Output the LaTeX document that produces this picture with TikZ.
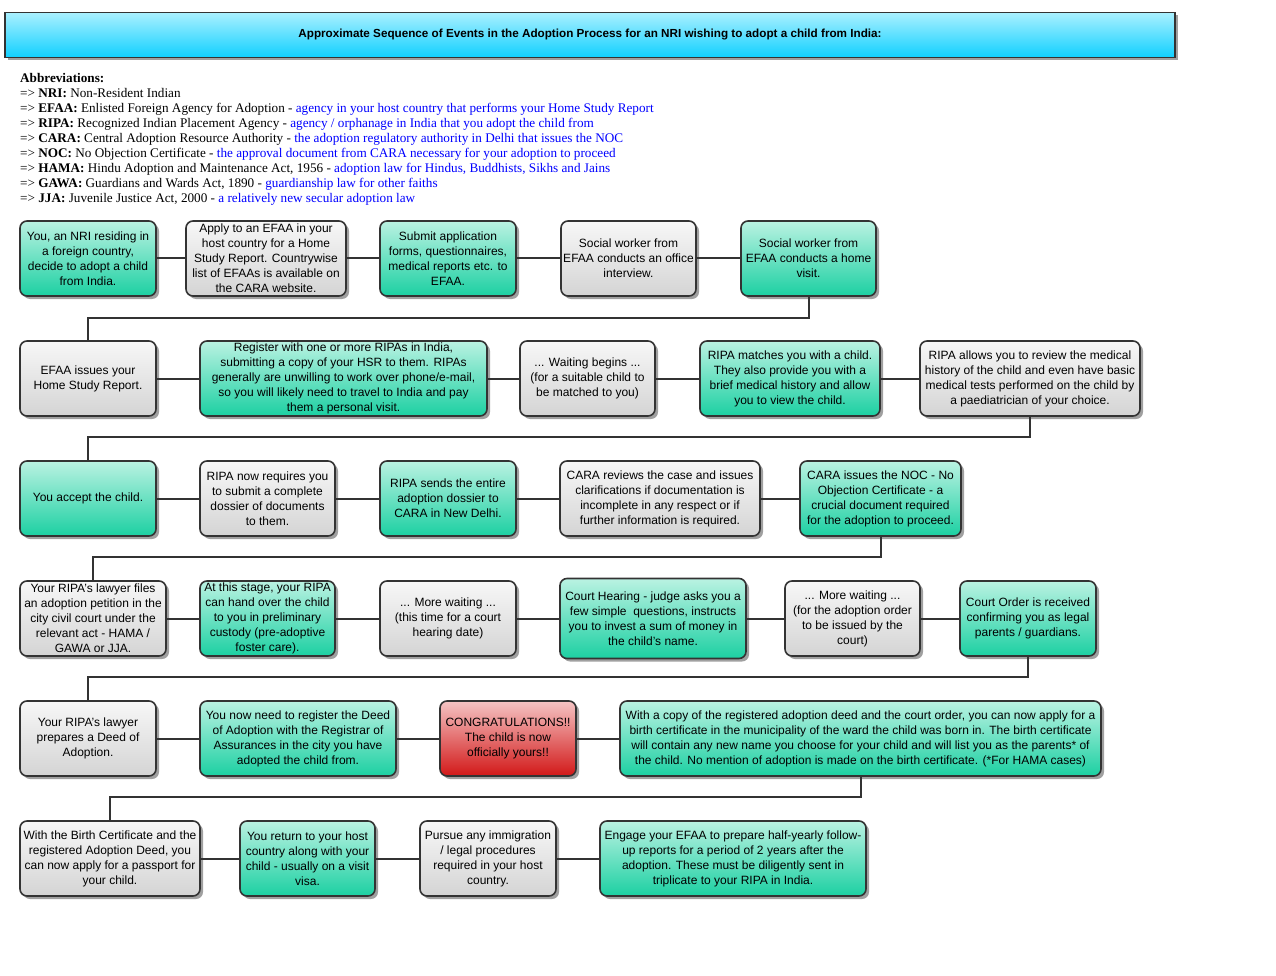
\documentclass[tikz,border=0pt]{standalone}
\usepackage{fontspec}
\setmainfont{Liberation Serif}
\setsansfont{Liberation Sans}
\usepackage{xcolor}
\definecolor{edge}{RGB}{51,51,51}
\definecolor{shadowgrey}{RGB}{160,160,160}
\definecolor{tealtop}{RGB}{186,242,226}
\definecolor{tealbot}{RGB}{28,208,162}
\definecolor{greytop}{RGB}{247,247,247}
\definecolor{greybot}{RGB}{212,212,212}
\definecolor{redtop}{RGB}{245,196,196}
\definecolor{redbot}{RGB}{210,24,24}
\definecolor{cyantop}{RGB}{170,240,255}
\definecolor{cyanbot}{RGB}{16,208,255}
\definecolor{linkblue}{RGB}{0,0,255}
\usepackage{tikz}
\usetikzlibrary{positioning,shadows}
\tikzset{
  box/.style={draw=edge,line width=1.6pt,rounded corners=7pt,inner sep=1pt,outer sep=0pt,%
    align=center,minimum height=75pt,font=\sffamily\fontsize{12}{15}\selectfont,%
    drop shadow={shadow xshift=3pt,shadow yshift=-3pt,fill=shadowgrey,opacity=1}},
  greybox/.style={box,top color=greytop,bottom color=greybot},
  greenbox/.style={box,top color=tealtop,bottom color=tealbot},
  redbox/.style={box,top color=redtop,bottom color=redbot},
  titlebar/.style={draw=edge,line width=1.6pt,outer sep=0pt,minimum width=1170pt,%
    minimum height=45pt,top color=cyantop,bottom color=cyanbot,%
    font=\sffamily\bfseries\fontsize{11.7}{14}\selectfont,%
    drop shadow={shadow xshift=3pt,shadow yshift=-3pt,fill=shadowgrey,opacity=1}},
  abbr/.style={inner sep=0pt,align=left,font=\rmfamily\fontsize{13.2}{15}\selectfont},
  flow/.style={draw=edge,line width=2pt},
}

\begin{document}
\begin{tikzpicture}[x=1pt,y=-1pt]
\useasboundingbox (0,0) rectangle (1276,976);
\node[titlebar] (title) at (590,35) {Approximate Sequence of Events in the Adoption Process for an NRI wishing to adopt a child from India:};
\node[abbr,anchor=north west] (abbr) at (20,73) {\textbf{Abbreviations:}\\
=> \textbf{NRI:} Non-Resident Indian\\
=> \textbf{EFAA:} Enlisted Foreign Agency for Adoption - \textcolor{linkblue}{agency in your host country that performs your Home Study Report}\\
=> \textbf{RIPA:} Recognized Indian Placement Agency - \textcolor{linkblue}{agency / orphanage in India that you adopt the child from}\\
=> \textbf{CARA:} Central Adoption Resource Authority - \textcolor{linkblue}{the adoption regulatory authority in Delhi that issues the NOC}\\
=> \textbf{NOC:} No Objection Certificate - \textcolor{linkblue}{the approval document from CARA necessary for your adoption to proceed}\\
=> \textbf{HAMA:} Hindu Adoption and Maintenance Act, 1956 - \textcolor{linkblue}{adoption law for Hindus, Buddhists, Sikhs and Jains}\\
=> \textbf{GAWA:} Guardians and Wards Act, 1890 - \textcolor{linkblue}{guardianship law for other faiths}\\
=> \textbf{JJA:} Juvenile Justice Act, 2000 - \textcolor{linkblue}{a relatively new secular adoption law}};

% row 1
\node[greenbox,minimum width=136pt,anchor=west] (nri) at (20,258.5) {You, an NRI residing in\\a foreign country,\\decide to adopt a child\\from India.};
\node[greybox,minimum width=160pt,right=30pt of nri] (efaa) {Apply to an EFAA in your\\host country for a Home\\Study Report. Countrywise\\list of EFAAs is available on\\the CARA website.};
\node[greenbox,minimum width=136pt,right=34pt of efaa] (forms) {Submit application\\forms, questionnaires,\\medical reports etc. to\\EFAA.};
\node[greybox,minimum width=135pt,right=45pt of forms] (office) {Social worker from\\EFAA conducts an office\\interview.};
\node[greenbox,minimum width=135pt,right=45pt of office] (home) {Social worker from\\EFAA conducts a home\\visit.};
% row 2
\node[greybox,minimum width=136pt,anchor=west] (hsr) at (20,378.5) {EFAA issues your\\Home Study Report.};
\node[greenbox,minimum width=287pt,right=44pt of hsr] (reg) {Register with one or more RIPAs in India,\\submitting a copy of your HSR to them. RIPAs\\generally are unwilling to work over phone/e-mail,\\so you will likely need to travel to India and pay\\them a personal visit.};
\node[greybox,minimum width=135pt,right=33pt of reg] (waitA) {... Waiting begins ...\\(for a suitable child to\\be matched to you)};
\node[greenbox,minimum width=180pt,right=45pt of waitA] (match) {RIPA matches you with a child.\\They also provide you with a\\brief medical history and allow\\you to view the child.};
\node[greybox,minimum width=220pt,right=40pt of match] (review) {RIPA allows you to review the medical\\history of the child and even have basic\\medical tests performed on the child by\\a paediatrician of your choice.};
% row 3
\node[greenbox,minimum width=136pt,anchor=west] (accept) at (20,498.5) {You accept the child.};
\node[greybox,minimum width=135pt,right=44pt of accept] (dossier) {RIPA now requires you\\to submit a complete\\dossier of documents\\to them.};
\node[greenbox,minimum width=136pt,right=45pt of dossier] (send) {RIPA sends the entire\\adoption dossier to\\CARA in New Delhi.};
\node[greybox,minimum width=200pt,right=44pt of send] (check) {CARA reviews the case and issues\\clarifications if documentation is\\incomplete in any respect or if\\further information is required.};
\node[greenbox,minimum width=161pt,right=40pt of check] (noc) {CARA issues the NOC - No\\Objection Certificate - a\\crucial document required\\for the adoption to proceed.};
% row 4
\node[greybox,minimum width=146pt,anchor=west] (petition) at (20,618.5) {Your RIPA's lawyer files\\an adoption petition in the\\city civil court under the\\relevant act - HAMA /\\GAWA or JJA.};
\node[greenbox,minimum width=135pt,right=34pt of petition] (custody) {At this stage, your RIPA\\can hand over the child\\to you in preliminary\\custody (pre-adoptive\\foster care).};
\node[greybox,minimum width=136pt,right=45pt of custody] (waitB) {... More waiting ...\\(this time for a court\\hearing date)};
\node[greenbox,minimum width=186pt,minimum height=80pt,right=44pt of waitB] (hearing) {Court Hearing - judge asks you a\\few simple\ \ questions, instructs\\you to invest a sum of money in\\the child's name.};
\node[greybox,minimum width=135pt,right=39pt of hearing] (waitC) {... More waiting ...\\(for the adoption order\\to be issued by the\\court)};
\node[greenbox,minimum width=136pt,right=40pt of waitC] (order) {Court Order is received\\confirming you as legal\\parents / guardians.};
% row 5
\node[greybox,minimum width=136pt,anchor=west] (deed) at (20,738.5) {Your RIPA's lawyer\\prepares a Deed of\\Adoption.};
\node[greenbox,minimum width=196pt,right=44pt of deed] (register) {You now need to register the Deed\\of Adoption with the Registrar of\\Assurances in the city you have\\adopted the child from.};
\node[redbox,minimum width=136pt,right=44pt of register] (congrats) {CONGRATULATIONS!!\\The child is now\\officially yours!!};
\node[greenbox,minimum width=481pt,right=44pt of congrats] (birth) {With a copy of the registered adoption deed and the court order, you can now apply for a\\birth certificate in the municipality of the ward the child was born in. The birth certificate\\will contain any new name you choose for your child and will list you as the parents* of\\the child. No mention of adoption is made on the birth certificate. (*For HAMA cases)};
% row 6
\node[greybox,minimum width=180pt,anchor=west] (passport) at (20,858.5) {With the Birth Certificate and the\\registered Adoption Deed, you\\can now apply for a passport for\\your child.};
\node[greenbox,minimum width=135pt,right=40pt of passport] (back) {You return to your host\\country along with your\\child - usually on a visit\\visa.};
\node[greybox,minimum width=136pt,right=45pt of back] (immig) {Pursue any immigration\\/ legal procedures\\required in your host\\country.};
\node[greenbox,minimum width=266pt,right=44pt of immig] (followup) {Engage your EFAA to prepare half-yearly follow-\\up reports for a period of 2 years after the\\adoption. These must be diligently sent in\\triplicate to your RIPA in India.};

\draw[flow] (nri) -- (efaa);
\draw[flow] (efaa) -- (forms);
\draw[flow] (forms) -- (office);
\draw[flow] (office) -- (home);
\draw[flow] (home.south) -- ++(0,22) -| (hsr.north);
\draw[flow] (hsr) -- (reg);
\draw[flow] (reg) -- (waitA);
\draw[flow] (waitA) -- (match);
\draw[flow] (match) -- (review);
\draw[flow] (review.south) -- ++(0,21) -| (accept.north);
\draw[flow] (accept) -- (dossier);
\draw[flow] (dossier) -- (send);
\draw[flow] (send) -- (check);
\draw[flow] (check) -- (noc);
\draw[flow] (noc.south) -- ++(0,21) -| (petition.north);
\draw[flow] (petition) -- (custody);
\draw[flow] (custody) -- (waitB);
\draw[flow] (waitB) -- (hearing);
\draw[flow] (hearing) -- (waitC);
\draw[flow] (waitC) -- (order);
\draw[flow] (order.south) -- ++(0,21) -| (deed.north);
\draw[flow] (deed) -- (register);
\draw[flow] (register) -- (congrats);
\draw[flow] (congrats) -- (birth);
\draw[flow] (birth.south) -- ++(0,21) -| (passport.north);
\draw[flow] (passport) -- (back);
\draw[flow] (back) -- (immig);
\draw[flow] (immig) -- (followup);
\end{tikzpicture}
\end{document}
